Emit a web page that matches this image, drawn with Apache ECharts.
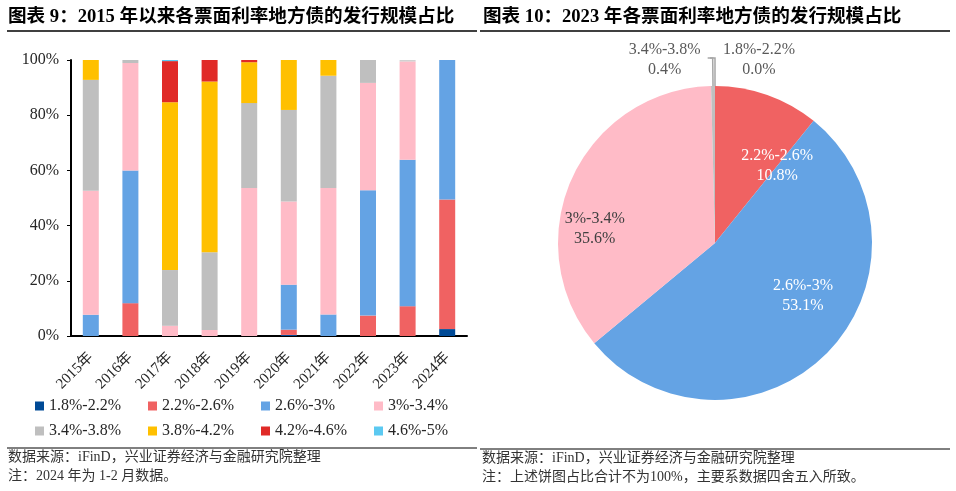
<!DOCTYPE html>
<html>
<head>
<meta charset="utf-8">
<script src="https://cdn.jsdelivr.net/npm/echarts@6/dist/echarts.min.js"></script>
<style>
  html, body { margin: 0; padding: 0; background: #fff; }
  #chart { width: 956px; height: 491px; }
</style>
</head>
<body>
<div id="chart"></div>
<script>
// 年份
const years = ['2015年', '2016年', '2017年', '2018年', '2019年', '2020年', '2021年', '2022年', '2023年', '2024年']
// 票面利率区间
const rateNames = ['1.8%-2.2%', '2.2%-2.6%', '2.6%-3%', '3%-3.4%', '3.4%-3.8%', '3.8%-4.2%', '4.2%-4.6%', '4.6%-5%']
// 各区间占比（%），按年份
const r18_22 = [0, 0, 0, 0, 0, 0.4, 0, 0, 0, 2.5]
const r22_26 = [0, 11.9, 0, 0, 0, 1.9, 0, 7.4, 10.8, 47.0]
const r26_30 = [7.7, 48.1, 0, 0, 0, 16.3, 7.8, 45.4, 53.1, 50.5]
const r30_34 = [44.9, 38.9, 3.7, 2.2, 53.6, 30.1, 45.8, 38.9, 35.6, 0]
const r34_38 = [40.2, 1.1, 20.2, 28.1, 30.8, 33.2, 40.7, 8.3, 0.4, 0]
const r38_42 = [7.2, 0, 60.8, 61.9, 14.8, 18.1, 5.7, 0, 0, 0]
const r42_46 = [0, 0, 14.9, 7.8, 0.8, 0, 0, 0, 0, 0]
const r46_50 = [0, 0, 0.4, 0, 0, 0, 0, 0, 0, 0]
// 2023 年饼图
const pieNames = ['1.8%-2.2%', '2.2%-2.6%', '2.6%-3%', '3%-3.4%', '3.4%-3.8%']
const pieValues = [0.0, 10.8, 53.1, 35.6, 0.4]
const yTicks = [0, 20, 40, 60, 80, 100]

const colors = ['#004A96', '#F06262', '#64A3E4', '#FFBBC7', '#BFBFBF', '#FFC000', '#E02A27', '#5BC9F1']
const serif = '"Liberation Serif", "Noto Sans CJK SC", serif'
const barData = [r18_22, r22_26, r26_30, r30_34, r34_38, r38_42, r42_46, r46_50]

// 饼图标签的微调：内部标签偏移，外部小扇区标签左右分开
const labelTweak = {
  0: { align: 'left', dx: 18, dy: 2 },
  1: { dx: 35, dy: 0 },
  2: { dx: 30, dy: -4 },
  3: { dx: -46, dy: 19 },
  4: { align: 'right', dx: -2, dy: 2 }
}
const bigSlice = v => v >= 5

const chart = echarts.init(document.getElementById('chart'))

const barSeries = rateNames.map((name, i) => ({
  name: name,
  type: 'bar',
  stack: 'total',
  barWidth: 16,
  data: barData[i],
  itemStyle: { color: colors[i] }
}))

const pieSeries = {
  type: 'pie',
  center: [715, 243],
  radius: 157,
  startAngle: 90,
  clockwise: true,
  avoidLabelOverlap: false,
  data: pieNames.map((name, i) => {
    const big = bigSlice(pieValues[i])
    return {
      name: name,
      value: pieValues[i],
      itemStyle: { color: colors[rateNames.indexOf(name)] },
      label: big
        ? { position: 'inside', color: i === 3 ? '#404040' : '#fff' }
        : { position: 'outside', color: '#595959' },
      labelLine: { show: !big }
    }
  }),
  label: {
    formatter: p => '{a|' + p.name + '}\n{a|' + p.value.toFixed(1) + '%}',
    fontFamily: serif,
    fontSize: 16,
    lineHeight: 20,
    rich: { a: { align: 'center', fontFamily: serif, fontSize: 16, lineHeight: 20 } }
  },
  labelLine: {
    length: 28,
    length2: 5,
    lineStyle: { color: '#A6A6A6', width: 1.5 }
  },
  labelLayout: p => labelTweak[p.dataIndex] || {}
}

// 图例：两行四列，等距排列
const legends = rateNames.map((name, i) => ({
  left: 30 + (i % 4) * 113,
  top: i < 4 ? 393 : 418,
  icon: 'rect',
  itemWidth: 9,
  itemHeight: 9,
  data: [name],
  textStyle: { fontFamily: serif, fontSize: 16, color: '#262626' }
}))

chart.setOption({
  animation: false,
  backgroundColor: '#fff',
  grid: { left: 71, right: 489, top: 60, bottom: 155 },
  legend: legends,
  xAxis: {
    type: 'category',
    data: years,
    axisLine: { lineStyle: { color: '#000', width: 2 } },
    axisTick: { show: false },
    axisLabel: { rotate: 45, fontFamily: serif, fontSize: 15, color: '#262626', margin: 19 }
  },
  yAxis: {
    type: 'value',
    min: yTicks[0],
    max: yTicks[yTicks.length - 1],
    interval: yTicks[1] - yTicks[0],
    axisLine: { show: true, lineStyle: { color: '#000', width: 2 } },
    axisTick: { show: true, length: 4, lineStyle: { color: '#000' } },
    splitLine: { show: false },
    axisLabel: { formatter: '{value}%', fontFamily: serif, fontSize: 16, color: '#262626', margin: 12 }
  },
  series: barSeries.concat([pieSeries]),
  graphic: [
    { type: 'text', left: 8, top: 8, style: { text: '图表 9：2015 年以来各票面利率地方债的发行规模占比', font: 'bold 18.6px ' + serif, fill: '#000' } },
    { type: 'line', shape: { x1: 7, y1: 31, x2: 477, y2: 31 }, style: { stroke: '#000', lineWidth: 1.3 } },
    { type: 'text', left: 483, top: 8, style: { text: '图表 10：2023 年各票面利率地方债的发行规模占比', font: 'bold 18.6px ' + serif, fill: '#000' } },
    { type: 'line', shape: { x1: 480, y1: 31, x2: 950, y2: 31 }, style: { stroke: '#000', lineWidth: 1.3 } },
    { type: 'line', shape: { x1: 7, y1: 448, x2: 477, y2: 448 }, style: { stroke: '#000', lineWidth: 1 } },
    { type: 'line', shape: { x1: 480, y1: 449, x2: 950, y2: 449 }, style: { stroke: '#000', lineWidth: 1 } },
    { type: 'text', left: 8, top: 450, style: { text: '数据来源：iFinD，兴业证券经济与金融研究院整理', font: '14px ' + serif, fill: '#333' } },
    { type: 'text', left: 8, top: 469, style: { text: '注：2024 年为 1-2 月数据。', font: '14px ' + serif, fill: '#333' } },
    { type: 'text', left: 482, top: 451, style: { text: '数据来源：iFinD，兴业证券经济与金融研究院整理', font: '14px ' + serif, fill: '#333' } },
    { type: 'text', left: 482, top: 470, style: { text: '注：上述饼图占比合计不为100%，主要系数据四舍五入所致。', font: '14px ' + serif, fill: '#333' } }
  ]
})
</script>
</body>
</html>
